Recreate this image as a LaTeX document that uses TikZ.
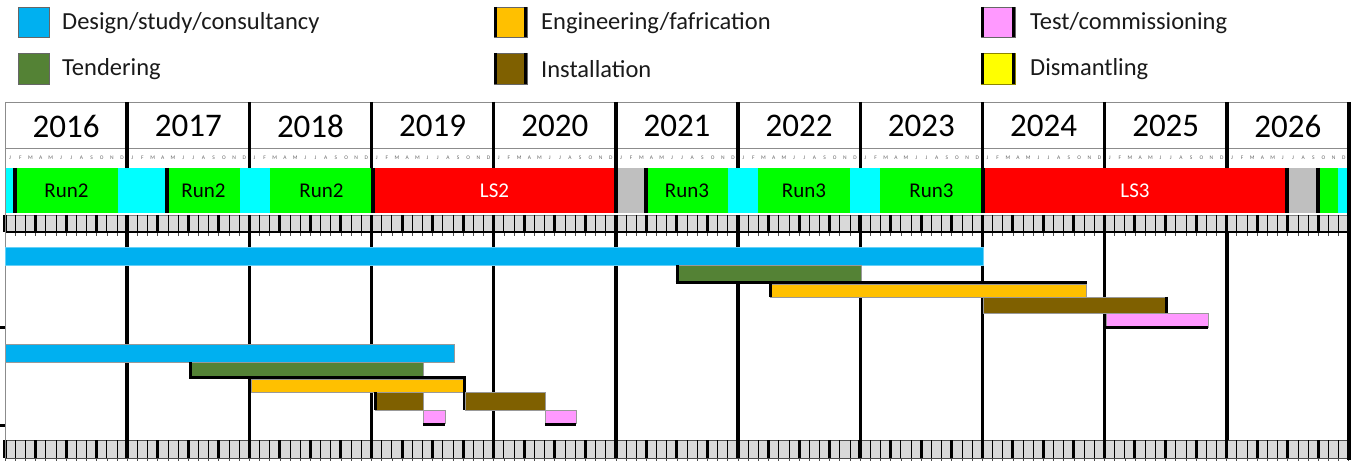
\documentclass[tikz,border=0pt]{standalone}
\usepackage{fontspec}
\setmainfont{Carlito}
\definecolor{cDesign}{HTML}{00B0F0}
\definecolor{cTender}{HTML}{548235}
\definecolor{cEng}{HTML}{FFC000}
\definecolor{cInst}{HTML}{7F6000}
\definecolor{cTest}{HTML}{FF99FF}
\definecolor{cDism}{HTML}{FFFF00}
\definecolor{runG}{HTML}{00FF00}
\definecolor{runC}{HTML}{00FFFF}
\definecolor{runR}{HTML}{FF0000}
\definecolor{runGr}{HTML}{BFBFBF}
\definecolor{tickGr}{HTML}{D9D9D9}
\definecolor{txt}{HTML}{1A1A1A}
\tikzset{
  yearlbl/.style={font=\fontsize{33}{33}\selectfont, text=black, inner sep=0pt},
  monlbl/.style={font=\fontsize{5.5}{5.5}\selectfont, text=black!60, inner sep=0pt},
  runlbl/.style={font=\fontsize{21}{21}\selectfont, text=black, inner sep=0pt},
  lslbl/.style={font=\fontsize{21}{21}\selectfont, text=white, inner sep=0pt},
  leglbl/.style={font=\fontsize{24.5}{24.5}\selectfont, text=txt, anchor=west, inner sep=0pt},
  thinframe/.style={draw=black!45, line width=0.8pt},
  yearline/.style={line width=3.5pt, black},
  barborder/.style={draw=black!40, line width=0.5pt},
  shadow/.style={line width=3pt, black},
}
\begin{document}
\begin{tikzpicture}[x=1pt,y=-1pt]
\useasboundingbox (0,0) rectangle (1355,462);
\fill[white] (0,0) rectangle (1355,462);

% ---------- Legend ----------
\filldraw[fill=cDesign, draw=black!60, line width=0.6pt] (18,7) rectangle (49,37);
\filldraw[fill=cTender, draw=black!60, line width=0.6pt] (18,53) rectangle (49,84);
\node[leglbl] (lgDesign) at (62,23) {Design/study/consultancy};
\node[leglbl] (lgTender) at (62,69) {Tendering};
\filldraw[fill=cEng, draw=black!60, line width=0.6pt] (494,7) rectangle (527,37);
\draw[shadow] (495.5,7) -- (495.5,37) (525.5,7) -- (525.5,37);
\filldraw[fill=cInst, draw=black!60, line width=0.6pt] (494,53) rectangle (527,84);
\draw[shadow] (495.5,53) -- (495.5,84) (525.5,53) -- (525.5,84);
\node[leglbl] (lgEng) at (541,23) {Engineering/fafrication};
\node[leglbl] (lgInst) at (541,69) {Installation};
\filldraw[fill=cTest, draw=black!60, line width=0.6pt] (981,7) rectangle (1015,37);
\draw[shadow] (982.5,7) -- (982.5,37) (1013.5,7) -- (1013.5,37);
\filldraw[fill=cDism, draw=olive, line width=0.6pt] (981,53) rectangle (1015,84);
\draw[shadow] (982.5,53) -- (982.5,84) (1013.5,53) -- (1013.5,84);
\node[leglbl] (lgTest) at (1030,23) {Test/commissioning};
\node[leglbl] (lgDism) at (1030,69) {Dismantling};

% ---------- Header ----------
\draw[thinframe] (5,102) -- (1349,102);
\draw[thinframe] (5,148) -- (1349,148);
\draw[thinframe] (5,168) -- (1349,168);
\foreach \i in {0,...,10} {
  \pgfmathsetmacro\xc{5+(\i+0.5)*122.18}
  \pgfmathtruncatemacro\yr{2016+\i}
  \node[yearlbl] (yr\yr) at (\xc,126) {\yr};
  \foreach [count=\m from 0] \l in {J,F,M,A,M,J,J,A,S,O,N,D} {
    \pgfmathsetmacro\xm{5+\i*122.18+(\m+0.5)*10.18}
    \node[monlbl] (mo\i-\m) at (\xm,158) {\l};
  }
}
\foreach \i in {1,...,10} {
  \pgfmathsetmacro\xa{5+\i*122.18}
  \draw[yearline] (\xa,102) -- (\xa,168);
}

% ---------- Run row ----------
\fill[runC] (5,168) rectangle (15,213);
\fill[runG] (15,168) rectangle (118,213);
\fill[runC] (118,168) rectangle (167,213);
\fill[runG] (167,168) rectangle (240,213);
\fill[runC] (240,168) rectangle (270,213);
\fill[runG] (270,168) rectangle (373,213);
\fill[runR] (373,168) rectangle (616,213);
\fill[runGr] (616,168) rectangle (646,213);
\fill[runG] (646,168) rectangle (728,213);
\fill[runC] (728,168) rectangle (758,213);
\fill[runG] (758,168) rectangle (850,213);
\fill[runC] (850,168) rectangle (880,213);
\fill[runG] (880,168) rectangle (983,213);
\fill[runR] (983,168) rectangle (1287,213);
\fill[runGr] (1287,168) rectangle (1318,213);
\fill[runG] (1318,168) rectangle (1338,213);
\fill[runC] (1338,168) rectangle (1349,213);
\foreach \xa in {15,167,373,616,646,983,1287,1318} {
  \draw[yearline] (\xa,168) -- (\xa,213);
}
\node[runlbl] (r2a) at (66.5,191) {Run2};
\node[runlbl] (r2b) at (203.5,191) {Run2};
\node[runlbl] (r2c) at (321.5,191) {Run2};
\node[lslbl] (ls2) at (494.5,191) {LS2};
\node[runlbl] (r3a) at (687,191) {Run3};
\node[runlbl] (r3b) at (804,191) {Run3};
\node[runlbl] (r3c) at (931.5,191) {Run3};
\node[lslbl] (ls3) at (1135,191) {LS3};

% ---------- Tick rows ----------
\fill[tickGr] (5,215) rectangle (1349,231);
\fill[tickGr] (5,440) rectangle (1349,458);
\draw[black!50, line width=0.6pt] (5,215) -- (1349,215);
\draw[black!70, line width=0.8pt] (5,440) -- (1349,440);
\draw[black!70, line width=0.8pt] (5,458) -- (1349,458);
\foreach \m in {0,...,132} {
  \pgfmathsetmacro\xm{5+\m*10.18}
  \pgfmathtruncatemacro\q{mod(\m,3)}
  \pgfmathtruncatemacro\yy{mod(\m,12)}
  \ifnum\yy=0 \def\lw{3.5}\else\ifnum\q=0 \def\lw{3}\else\def\lw{0.7}\fi\fi
  \draw[line width=\lw pt, black] (\xm,215) -- (\xm,232);
  \draw[line width=\lw pt, black] (\xm,440) -- (\xm,458);
  \draw[line width=0.6pt, black!70] (\xm,233) -- (\xm,236.5);
  \draw[line width=0.6pt, black!70] (\xm,458) -- (\xm,461);
}
\draw[black, line width=2.5pt] (5,232) -- (1349,232);

% ---------- Chart grid ----------
\foreach \i in {1,...,10} {
  \pgfmathsetmacro\xa{5+\i*122.18}
  \draw[yearline] (\xa,233) -- (\xa,440);
}
\draw[thinframe] (5,102) -- (5,458);
\fill[black] (0,326.5) rectangle (5,329.5);
\fill[black] (0,423.5) rectangle (5,426.5);

% ---------- Upper project ----------
\filldraw[fill=cDesign, draw=cDesign!60, line width=0.5pt] (5,247) rectangle (983,265);
\filldraw[fill=cTender, barborder] (677,265) rectangle (861,281);
\filldraw[fill=cEng, barborder] (770,284) rectangle (1086,297);
\draw[shadow] (677,265) -- (677,284);
\draw[shadow] (675.5,282.5) -- (1087,282.5);
\draw[shadow] (770,282) -- (770,297);
\filldraw[fill=cInst, barborder] (983,297) rectangle (1166,313);
\draw[shadow] (1166,297) -- (1166,313);
\filldraw[fill=cTest, barborder] (1106,313) rectangle (1208,327);
\draw[shadow] (1106,328) -- (1208,328);

% ---------- Lower project ----------
\filldraw[fill=cDesign, barborder] (5,344) rectangle (454,362);
\filldraw[fill=cTender, barborder] (189,362) rectangle (423,376);
\draw[shadow] (190.5,362) -- (190.5,379);
\draw[shadow] (189,377.5) -- (466,377.5);
\filldraw[fill=cEng, barborder] (251,379) rectangle (463,392);
\draw[shadow] (464.5,376) -- (464.5,410);
\filldraw[fill=cInst, barborder] (375,392) rectangle (423,410);
\draw[shadow] (375,392) -- (375,410);
\filldraw[fill=cInst, barborder] (465,392) rectangle (545,410);
\filldraw[fill=cTest, barborder] (423,410) rectangle (445,423);
\draw[shadow] (423,424.5) -- (445,424.5);
\filldraw[fill=cTest, barborder] (545,410) rectangle (576,423);
\draw[shadow] (545,424.5) -- (576,424.5);

% right edge
\draw[line width=3.5pt, black] (1349,102) -- (1349,460);
\end{tikzpicture}
\end{document}
